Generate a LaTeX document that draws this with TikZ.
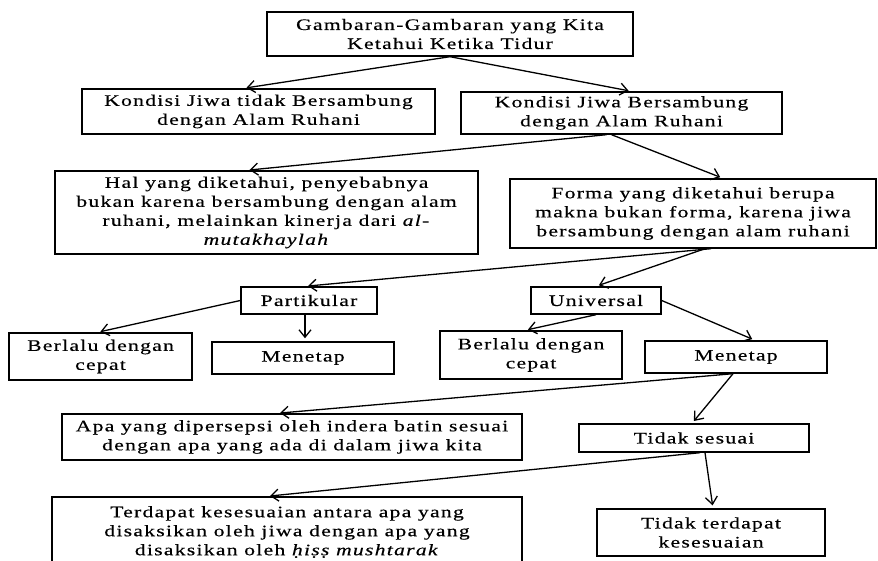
\documentclass[tikz,border=0pt]{standalone}
\usepackage{fontspec}
\setmainfont{Liberation Serif}[FakeStretch=1.35,LetterSpace=8,FakeBold=0.4]
\usetikzlibrary{arrows.meta}

\tikzset{
  box/.style={draw, line width=1.4pt, align=center, inner sep=0pt,
    font=\fontsize{16}{19}\selectfont},
  arr/.style={->, line width=1.3pt, shorten >=3pt}
}

\begin{document}
\begin{tikzpicture}[x=1pt,y=-1pt,>={Straight Barb[length=7.5pt,width=12pt]}]
\useasboundingbox (0,0) rectangle (878,561);
\clip (0,0) rectangle (878,561);
\node[box, minimum width=366pt, minimum height=44pt] (a) at (450,34)
  {Gambaran-Gambaran yang Kita\\Ketahui Ketika Tidur};
\node[box, minimum width=353pt, minimum height=45pt] (b1) at (258.5,111.5)
  {Kondisi Jiwa tidak Bersambung\\dengan Alam Ruhani};
\node[box, minimum width=321pt, minimum height=42pt] (b2) at (621.5,113)
  {Kondisi Jiwa Bersambung\\dengan Alam Ruhani};
\node[box, minimum width=423pt, minimum height=83pt] (c1) at (266.5,212.5)
  {Hal yang diketahui, penyebabnya\\bukan karena bersambung dengan alam\\
   ruhani, melainkan kinerja dari \textit{al-}\\\textit{mutakhaylah}};
\node[box, minimum width=366pt, minimum height=69pt] (c2) at (693,213.5)
  {Forma yang diketahui berupa\\makna bukan forma, karena jiwa\\
   bersambung dengan alam ruhani};
\node[box, minimum width=136pt, minimum height=27pt] (d1) at (309,300.5)
  {Partikular};
\node[box, minimum width=130pt, minimum height=27pt] (d2) at (596,300.5)
  {Universal};
\node[box, minimum width=183pt, minimum height=47pt] (e1) at (100.5,356.5)
  {Berlalu dengan\\cepat};
\node[box, minimum width=182pt, minimum height=32pt] (e2) at (303,358)
  {Menetap};
\node[box, minimum width=182pt, minimum height=48pt] (e3) at (531,355)
  {Berlalu dengan\\cepat};
\node[box, minimum width=182pt, minimum height=32pt] (e4) at (736,357)
  {Menetap};
\node[box, minimum width=460pt, minimum height=46pt] (f1) at (292,437)
  {Apa yang dipersepsi oleh indera batin sesuai\\dengan apa yang ada di dalam jiwa kita};
\node[box, minimum width=230pt, minimum height=28pt] (f2) at (694,438)
  {Tidak sesuai};
\node[box, minimum width=470pt, minimum height=70pt] (g1) at (287,532)
  {Terdapat kesesuaian antara apa yang\\disaksikan oleh jiwa dengan apa yang\\
   disaksikan oleh \textit{ḥiṣṣ mushtarak}};
\node[box, minimum width=228pt, minimum height=47pt] (g2) at (711,532.5)
  {Tidak terdapat\\kesesuaian};
\path[arr] (a.south) edge ([xshift=-15pt]b1.north);
\path[arr] (a.south) edge ([xshift=10pt]b2.north);
\path[arr] ([xshift=-15pt]b2.south) edge ([xshift=-20pt]c1.north);
\path[arr] ([xshift=-10pt]b2.south) edge ([xshift=30pt]c2.north);
\path[arr] ([xshift=18pt]c2.south) edge ([xshift=-4pt]d1.north);
\path[arr] ([xshift=12pt]c2.south) edge (d2.north);
\path[arr] (d1.west) edge ([xshift=-3pt]e1.north);
\path[arr] ([xshift=-4pt]d1.south) edge ([xshift=2pt]e2.north);
\path[arr] (d2.south) edge ([xshift=-6pt]e3.north);
\path[arr] (d2.east) edge ([xshift=19pt]e4.north);
\path[arr] ([xshift=-3pt]e4.south) edge ([xshift=-15pt]f1.north);
\path[arr] ([xshift=-3pt]e4.south) edge ([xshift=-2pt]f2.north);
\path[arr] ([xshift=6pt]f2.south) edge ([xshift=-20pt]g1.north);
\path[arr] ([xshift=11pt]f2.south) edge ([xshift=2pt]g2.north);
\end{tikzpicture}
\end{document}
